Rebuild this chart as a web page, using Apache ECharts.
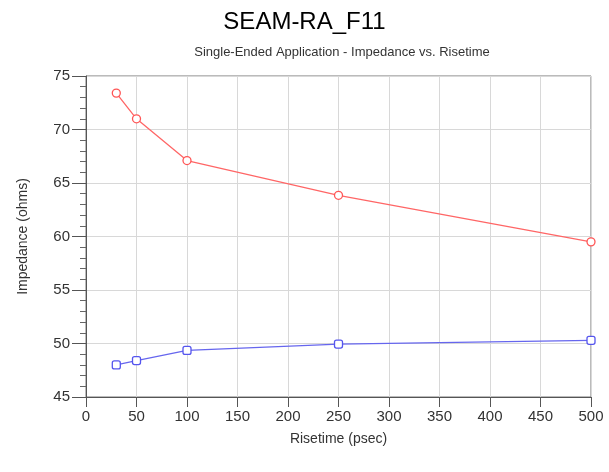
<!DOCTYPE html>
<html><head><meta charset="utf-8">
<script src="https://cdn.jsdelivr.net/npm/echarts@6/dist/echarts.min.js"></script>
<style>html,body{margin:0;padding:0;background:#fff}#c{width:609px;height:472px}</style>
</head><body><div id="c"></div>
<script>
const risetime = [30, 50, 100, 250, 500];
const redImpedance = [73.4, 71.0, 67.1, 63.85, 59.5];
const blueImpedance = [48.0, 48.4, 49.35, 49.95, 50.3];
const xTicks = [0, 50, 100, 150, 200, 250, 300, 350, 400, 450, 500];
const yTicks = [45, 50, 55, 60, 65, 70, 75];

const chart = echarts.init(document.getElementById('c'), null, {renderer: 'canvas'});
const font = 'Liberation Sans, Arial, sans-serif';
chart.setOption({
  animation: false,
  title: [
    {text: 'SEAM-RA_F11', left: 'center', top: 5, textStyle: {fontFamily: font, fontSize: 24, fontWeight: 'normal', color: '#000'}},
    {text: 'Single-Ended Application - Impedance vs. Risetime', left: 337, top: 41, textAlign: 'center', textStyle: {fontFamily: font, fontSize: 13, fontWeight: 'normal', color: '#333'}}
  ],
  grid: {left: 86, right: 18, top: 76, bottom: 75, show: true, borderColor: '#777', borderWidth: 1},
  xAxis: {
    type: 'value', min: 0, max: 500, interval: 50,
    name: 'Risetime (psec)', nameLocation: 'middle', nameGap: 35,
    nameTextStyle: {fontFamily: font, fontSize: 14, color: '#333'},
    axisLine: {show: true, lineStyle: {color: '#555'}},
    axisTick: {show: true, inside: false, length: 10, lineStyle: {color: '#555'}},
    axisLabel: {fontFamily: font, fontSize: 15, color: '#333', margin: 12},
    splitLine: {show: true, lineStyle: {color: '#d8d8d8'}}
  },
  yAxis: {
    type: 'value', min: 45, max: 75, interval: 5,
    name: 'Impedance (ohms)', nameLocation: 'middle', nameGap: 56,
    nameTextStyle: {fontFamily: font, fontSize: 14, color: '#333'},
    axisLine: {show: true, lineStyle: {color: '#555'}},
    axisTick: {show: true, length: 14, lineStyle: {color: '#555'}},
    minorTick: {show: true, splitNumber: 5, length: 6, lineStyle: {color: '#666'}},
    axisLabel: {fontFamily: font, fontSize: 15, color: '#333', margin: 16},
    splitLine: {show: true, lineStyle: {color: '#d8d8d8'}}
  },
  series: [
    {type: 'line', data: risetime.map((x, i) => [x, redImpedance[i]]),
     symbol: 'circle', symbolSize: 8, showAllSymbol: true,
     lineStyle: {color: '#ff6666', width: 1.3},
     itemStyle: {color: '#fff', borderColor: '#ff5555', borderWidth: 1.3}},
    {type: 'line', data: risetime.map((x, i) => [x, blueImpedance[i]]),
     symbol: 'roundRect', symbolSize: 8, showAllSymbol: true,
     lineStyle: {color: '#6666ee', width: 1.3},
     itemStyle: {color: '#fff', borderColor: '#5555ee', borderWidth: 1.3}}
  ]
});
</script></body></html>
